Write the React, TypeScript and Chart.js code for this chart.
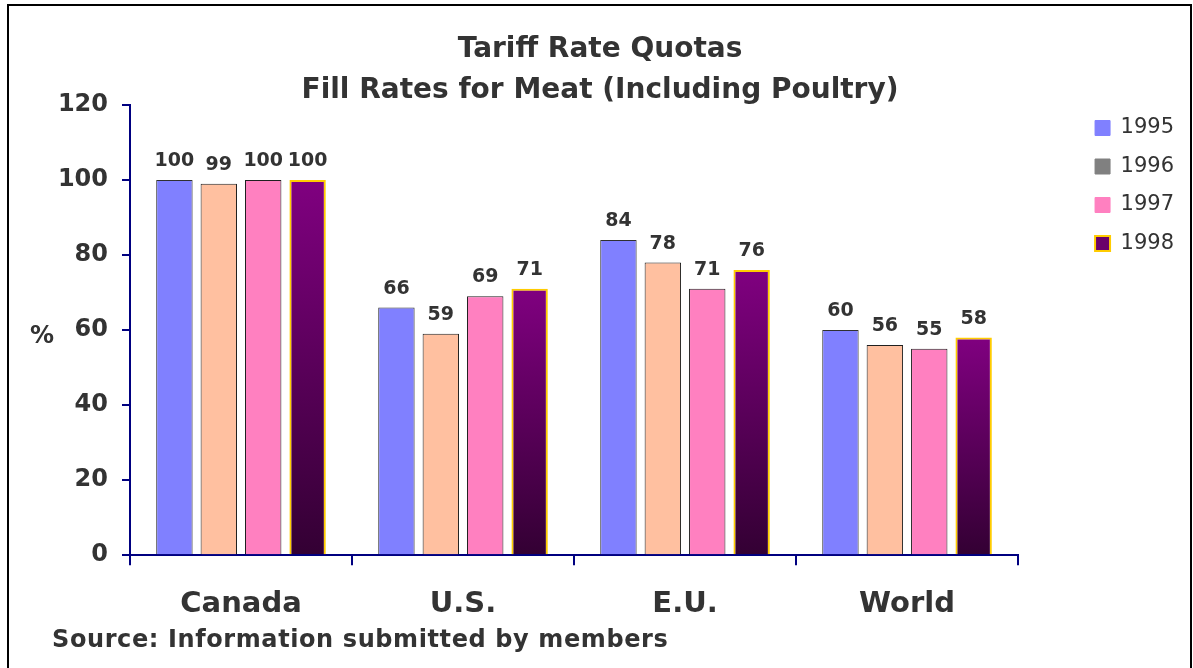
import React, { useEffect, useRef } from 'react';
import { Chart, registerables } from 'chart.js';

Chart.register(...registerables);

// ---- data ----
const categories = ['Canada', 'U.S.', 'E.U.', 'World'];
const seriesNames = ['1995', '1996', '1997', '1998'];
const values1995 = [100, 66, 84, 60];
const values1996 = [99, 59, 78, 56];
const values1997 = [100, 69, 71, 55];
const values1998 = [100, 71, 76, 58];
const yMin = 0;
const yMax = 120;
const yStep = 20;
const titleLines = ['Tariff Rate Quotas', 'Fill Rates for Meat (Including Poultry)'];
const yAxisLabel = '%';
const sourceText = 'Source: Information submitted by members';

// ---- styles ----
const FONT = '"DejaVu Sans", "Liberation Sans", Arial, sans-serif';
const TEXT = '#333333';
const NAVY = '#000080';
const fills = ['#8080FF', '#FFC0A0', '#FF80C0', '#800080'];
const borders = ['#303030', '#202020', '#202020', '#FFCC00'];
const borderWidths = [1, 1, 1, 2];
const legendFills = ['#8080FF', '#808080', '#FF80C0', '#6A006A'];
const legendStrokes = ['#8080FF', '#808080', '#FF80C0', '#FFCC00'];
const legendLineWidths = [1, 1, 1, 2];

const gradient1998 = (ctx: any) => {
  const chart = ctx.chart;
  const y = chart.scales && chart.scales.y;
  if (!chart.chartArea || !y || ctx.type !== 'data' || !ctx.parsed) return '#800080';
  const top = y.getPixelForValue(ctx.parsed.y);
  const bottom = y.getPixelForValue(0);
  if (!isFinite(top) || !isFinite(bottom) || top === bottom) return '#800080';
  const g = chart.ctx.createLinearGradient(0, top, 0, bottom);
  g.addColorStop(0, '#800080');
  g.addColorStop(1, '#330033');
  return g;
};

const decorPlugin = {
  id: 'decor',
  afterDatasetsDraw(chart: any) {
    const ctx = chart.ctx;
    ctx.save();
    ctx.font = `bold 19px ${FONT}`;
    ctx.fillStyle = TEXT;
    ctx.textAlign = 'center';
    ctx.textBaseline = 'middle';
    chart.data.datasets.forEach((ds: any, di: number) => {
      const meta = chart.getDatasetMeta(di);
      meta.data.forEach((el: any, i: number) => {
        ctx.fillText(String(ds.data[i]), el.x, el.y - 19);
      });
    });
    ctx.restore();
  },
  afterDraw(chart: any) {
    const ctx = chart.ctx;
    ctx.save();
    // frame
    ctx.strokeStyle = '#000000';
    ctx.lineWidth = 2;
    ctx.beginPath();
    ctx.moveTo(8, 668);
    ctx.lineTo(8, 5);
    ctx.lineTo(1191, 5);
    ctx.lineTo(1191, 668);
    ctx.stroke();
    // y axis label
    ctx.fillStyle = TEXT;
    ctx.font = `bold 24px ${FONT}`;
    ctx.textAlign = 'center';
    ctx.textBaseline = 'middle';
    ctx.fillText(yAxisLabel, 42, 337);
    // source
    ctx.font = `bold 24px ${FONT}`;
    ctx.textAlign = 'left';
    try { (ctx as any).letterSpacing = '0.6px'; } catch (e) {}
    ctx.fillText(sourceText, 52, 641);
    try { (ctx as any).letterSpacing = '0px'; } catch (e) {}
    ctx.restore();
  },
};

export default function App() {
  const canvasRef = useRef<HTMLCanvasElement | null>(null);

  useEffect(() => {
    const canvas = canvasRef.current;
    if (!canvas) return;
    const seriesValues = [values1995, values1996, values1997, values1998];
    const chart = new Chart(canvas, {
      type: 'bar',
      data: {
        labels: categories,
        datasets: seriesNames.map((name, i) => ({
          label: name,
          data: seriesValues[i],
          backgroundColor: i === 3 ? gradient1998 : fills[i],
          borderColor: borders[i],
          borderWidth: borderWidths[i],
          categoryPercentage: 0.8,
          barPercentage: 0.82,
        })),
      },
      options: {
        responsive: false,
        animation: false,
        devicePixelRatio: 1,
        layout: { padding: { top: 10, left: 16, right: 9, bottom: 24 } },
        plugins: {
          title: {
            display: true,
            text: titleLines,
            color: TEXT,
            font: { family: FONT, size: 28, weight: 'bold', lineHeight: 41 / 28 },
            padding: { top: 19.5, bottom: -6.5 },
          },
          legend: {
            display: true,
            position: 'right',
            align: 'start',
            title: { display: true, text: ' ', padding: { top: 89, bottom: 0 }, font: { size: 1, lineHeight: 1 } },
            labels: {
              color: TEXT,
              font: { family: FONT, size: 21 },
              boxWidth: 15,
              boxHeight: 15,
              padding: 17.5,
              generateLabels: (c: any) => {
                const items = (Chart.defaults as any).plugins.legend.labels.generateLabels(c);
                return items.map((it: any, i: number) => ({
                  ...it,
                  fillStyle: legendFills[i],
                  strokeStyle: legendStrokes[i],
                  lineWidth: legendLineWidths[i],
                }));
              },
            },
          },
          tooltip: { enabled: false },
        },
        scales: {
          x: {
            grid: { display: true, drawOnChartArea: false, drawTicks: true, tickLength: 10, color: NAVY, lineWidth: 2, offset: true },
            border: { display: true, color: NAVY, width: 2 },
            ticks: { color: TEXT, font: { family: FONT, size: 29, weight: 'bold' }, padding: 22 },
          },
          y: {
            min: yMin,
            max: yMax,
            grid: { display: true, drawOnChartArea: false, drawTicks: true, tickLength: 8, color: NAVY, lineWidth: 2 },
            border: { display: true, color: NAVY, width: 2 },
            ticks: { stepSize: yStep, color: TEXT, font: { family: FONT, size: 24, weight: 'bold' }, padding: 14 },
            afterFit: (s: any) => { s.width = 114; },
          },
          gap: {
            type: 'linear',
            position: 'right',
            display: true,
            grid: { display: false },
            border: { display: false },
            ticks: { display: false },
            afterFit: (s: any) => { s.width = 59.5; },
          },
        },
      },
      plugins: [decorPlugin],
    } as any);
    return () => chart.destroy();
  }, []);

  return (
    <div style={{ position: 'absolute', left: 0, top: 0, width: 1193, height: 668, background: '#ffffff' }}>
      <canvas ref={canvasRef} width={1193} height={668} style={{ display: 'block' }} />
    </div>
  );
}
